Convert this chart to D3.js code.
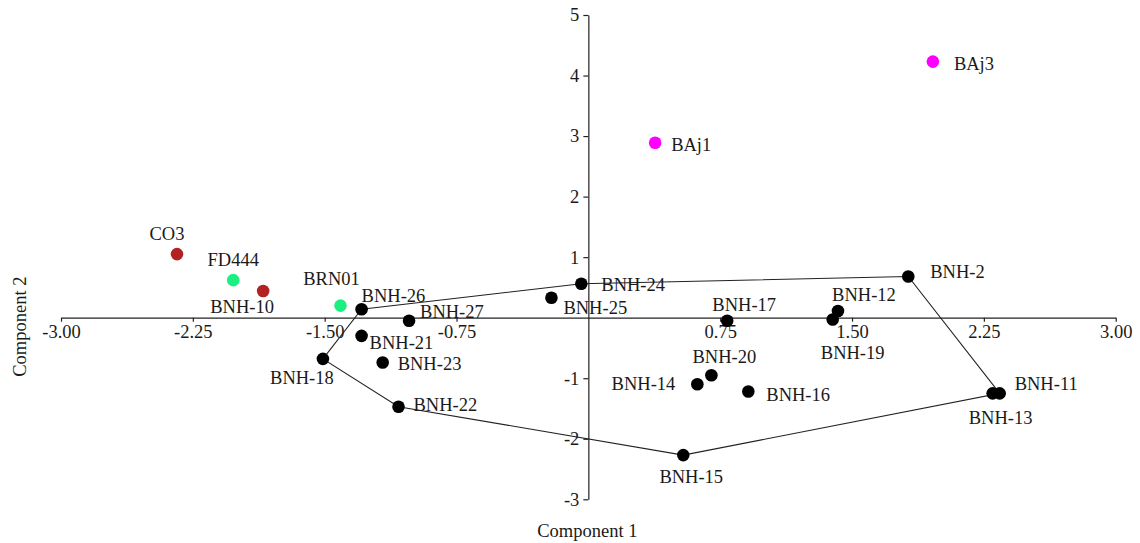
<!DOCTYPE html>
<html>
<head>
<meta charset="utf-8">
<script src="https://cdn.jsdelivr.net/npm/d3@7"></script>
<style>
  html, body { margin: 0; padding: 0; background: #fff; }
  svg { display: block; }
  text { font-family: "Liberation Serif", "Times New Roman", serif; fill: #1a1a1a; }
</style>
</head>
<body>
<svg id="chart" width="1140" height="543"></svg>
<script>
// ---- data ----
const sampleNames = ["CO3","FD444","BNH-10","BRN01","BNH-26","BNH-21","BNH-18","BNH-23","BNH-22","BNH-27",
  "BNH-25","BNH-24","BNH-17","BNH-20","BNH-14","BNH-16","BNH-15","BNH-12","BNH-19","BNH-2",
  "BNH-13","BNH-11","BAj1","BAj3"];
const component1 = [-2.34,-2.02,-1.85,-1.41,-1.29,-1.29,-1.51,-1.17,-1.08,-1.02,
  -0.21,-0.04,0.79,0.70,0.62,0.91,0.54,1.42,1.39,1.82,
  2.30,2.34,0.38,1.96];
const component2 = [1.05,0.62,0.44,0.20,0.14,-0.30,-0.68,-0.74,-1.47,-0.05,
  0.33,0.56,-0.05,-0.95,-1.10,-1.22,-2.27,0.11,-0.03,0.68,
  -1.25,-1.25,2.89,4.23];
const sampleGroups = ["red","green","red","green","BNH","BNH","BNH","BNH","BNH","BNH",
  "BNH","BNH","BNH","BNH","BNH","BNH","BNH","BNH","BNH","BNH",
  "BNH","BNH","BAj","BAj"];
const xTickValues = [-3,-2.25,-1.5,-0.75,0.75,1.5,2.25,3];
const yTickValues = [-3,-2,-1,1,2,3,4,5];
const xTitle = "Component 1";
const yTitle = "Component 2";

// ---- styles / layout (not data) ----
const groupColor = { red: "#b22222", green: "#19f07f", BNH: "#000000", BAj: "#ff00ff" };
const labelLayout = {
  "CO3": [-10,-14,"middle"], "FD444": [0,-14,"middle"], "BNH-10": [-21,22,"middle"],
  "BRN01": [-9,-21,"middle"], "BNH-26": [0,-7,"start"], "BNH-21": [8,13,"start"],
  "BNH-18": [-21,25,"middle"], "BNH-23": [15,8,"start"], "BNH-22": [15,4,"start"],
  "BNH-27": [11,-3,"start"], "BNH-25": [12,16,"start"], "BNH-24": [20,7,"start"],
  "BNH-17": [17,-10,"middle"], "BNH-20": [13,-12,"middle"], "BNH-14": [-22,6,"end"],
  "BNH-16": [18,9,"start"], "BNH-15": [8,28,"middle"], "BNH-12": [26,-10,"middle"],
  "BNH-19": [20,39,"middle"], "BNH-2": [22,1,"start"], "BNH-13": [8,31,"middle"],
  "BNH-11": [15,-3,"start"], "BAj1": [16,8,"start"], "BAj3": [21,8,"start"]
};
const fontSize = "18.5px";

const points = sampleNames.map((n, i) => ({ name: n, x: component1[i], y: component2[i], group: sampleGroups[i] }));

const svg = d3.select("#chart");
const x = d3.scaleLinear().domain([-3, 3]).range([61, 1115.7]);
const y = d3.scaleLinear().domain([5, -3]).range([15, 499.3]);

// axes crossing at origin
const xAxis = svg.append("g")
  .attr("transform", `translate(0,${y(0)})`)
  .call(d3.axisBottom(x).tickValues(xTickValues).tickFormat(d => d.toFixed(2)).tickSize(4).tickSizeOuter(0).tickPadding(3));
const yAxis = svg.append("g")
  .attr("transform", `translate(${x(0)},0)`)
  .call(d3.axisLeft(y).tickValues(yTickValues).tickFormat(d => String(d)).tickSize(5).tickSizeOuter(0).tickPadding(4));
[xAxis, yAxis].forEach(g => {
  g.selectAll("path, line").attr("stroke", "#222").attr("stroke-width", 1.2);
  g.selectAll("text").style("font-family", "'Liberation Serif', serif").style("font-size", fontSize).attr("fill", "#1a1a1a");
});

// convex hull of BNH samples
const bnh = points.filter(p => p.group === "BNH").map(p => [x(p.x), y(p.y)]);
const hull = d3.polygonHull(bnh);
svg.append("path")
  .attr("d", "M" + hull.map(p => p.join(",")).join("L") + "Z")
  .attr("fill", "none").attr("stroke", "#222").attr("stroke-width", 1.1);

// points
svg.append("g").selectAll("circle").data(points).join("circle")
  .attr("cx", d => x(d.x)).attr("cy", d => y(d.y))
  .attr("r", 6.3)
  .attr("fill", d => groupColor[d.group]);

// labels
svg.append("g").selectAll("text").data(points).join("text")
  .attr("x", d => x(d.x) + labelLayout[d.name][0])
  .attr("y", d => y(d.y) + labelLayout[d.name][1])
  .attr("text-anchor", d => labelLayout[d.name][2])
  .style("font-size", fontSize)
  .text(d => d.name);

// axis titles
svg.append("text").attr("x", 587.3).attr("y", 536.5).attr("text-anchor", "middle")
  .style("font-size", fontSize).text(xTitle);
svg.append("text").attr("transform", "translate(25.5,326.7) rotate(-90)").attr("text-anchor", "middle")
  .style("font-size", fontSize).text(yTitle);
</script>
</body>
</html>
